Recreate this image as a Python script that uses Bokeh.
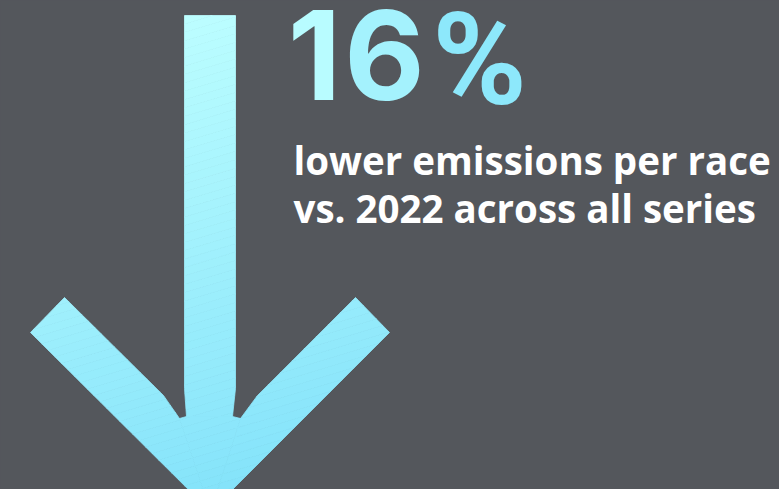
from bokeh.plotting import figure
from bokeh.models import Range1d
from bokeh.core.properties import value
from bokeh.embed import file_html
from bokeh.resources import INLINE

# ---- content ----
HEADLINE_CHARS = ["1", "6"]
HEADLINE_CENTERS = [314, 384]
HEADLINE_COLORS = ["#b8fcff", "#a4f2fd"]
PCT_CHAR = ["%"]
PCT_CENTER = [479]
PCT_COLOR = ["#8de8fb"]
SUB_LINES = ["lower emissions per race", "vs. 2022 across all series"]
SUB_TOPS = [133, 181]

# arrow outline pieces (page pixel space, y downwards)
SHAFT_X = [184, 235, 235, 232, 186, 184]
SHAFT_Y = [15, 15, 388, 416, 416, 388]
LEFT_ARM_X = [30, 64, 163, 179, 210]
LEFT_ARM_Y = [332, 297, 395, 418, 511]
RIGHT_ARM_X = [389, 355, 257, 240, 210]
RIGHT_ARM_Y = [332, 297, 395, 418, 511]
CENTER_X = [179, 186, 232, 240, 210]
CENTER_Y = [418, 416, 416, 418, 511]
ARROW_TOP = "#bcfeff"
ARROW_BOTTOM = "#83e2fa"
BG = "#54575c"

W, H = 779, 489
p = figure(width=W, height=H, output_backend="svg", toolbar_location=None,
           x_range=Range1d(0, W), y_range=Range1d(H, 0),
           min_border=0, background_fill_color=BG, border_fill_color=BG,
           outline_line_color=None)
p.axis.visible = False
p.grid.visible = False


def clip(poly, d, c, keep_ge):
    out = []
    n = len(poly)
    for i in range(n):
        a = poly[i]
        b = poly[(i + 1) % n]
        fa = a[0] * d[0] + a[1] * d[1] - c
        fb = b[0] * d[0] + b[1] * d[1] - c
        ina = fa >= 0 if keep_ge else fa <= 0
        inb = fb >= 0 if keep_ge else fb <= 0
        if ina:
            out.append(a)
        if ina != inb:
            t = fa / (fa - fb)
            out.append((a[0] + t * (b[0] - a[0]), a[1] + t * (b[1] - a[1])))
    return out


def hex2rgb(h):
    h = h.lstrip("#")
    return [int(h[i:i + 2], 16) for i in (0, 2, 4)]


def mix(c1, c2, t):
    a, b = hex2rgb(c1), hex2rgb(c2)
    return "#%02x%02x%02x" % tuple(round(a[i] + (b[i] - a[i]) * t) for i in range(3))


pieces = [list(zip(SHAFT_X, SHAFT_Y)), list(zip(LEFT_ARM_X, LEFT_ARM_Y)),
          list(zip(RIGHT_ARM_X, RIGHT_ARM_Y)), list(zip(CENTER_X, CENTER_Y))]
d = (0.3, 1.0)
allpts = [q for pc in pieces for q in pc]
proj = [x * d[0] + y * d[1] for x, y in allpts]
lo, hi = min(proj), max(proj)
N = 60
xs, ys, cols = [], [], []
for poly in pieces:
    for k in range(N):
        c0 = lo + (hi - lo) * k / N
        c1 = lo + (hi - lo) * (k + 1) / N
        part = clip(poly, d, c0, True)
        if part:
            part = clip(part, d, c1, False)
        if len(part) >= 3:
            xs.append([q[0] for q in part])
            ys.append([q[1] for q in part])
            cols.append(mix(ARROW_TOP, ARROW_BOTTOM, (k + 0.5) / N))
p.patches(xs, ys, fill_color=cols, line_color=cols, line_width=0.8)

# headline
p.text(x=HEADLINE_CENTERS, y=[9] * 2, text=HEADLINE_CHARS,
       text_color=HEADLINE_COLORS, text_font=value("Inter"),
       text_font_style="bold", text_font_size="124px",
       text_align="center", text_baseline="top")
p.text(x=PCT_CENTER, y=[-16], text=PCT_CHAR,
       text_color=PCT_COLOR, text_font=value("Roboto"),
       text_font_style="bold", text_font_size="128px",
       text_align="center", text_baseline="top")

# subtitle
p.text(x=[293, 293], y=SUB_TOPS, text=SUB_LINES,
       text_color="#ffffff",
       text_font=value("Open Sans"), text_font_style="bold",
       text_font_size="38.5px", text_align="left", text_baseline="top")

html = file_html(p, INLINE)
html = html.replace("<body>", '<body style="margin:0;overflow:hidden;background:%s">' % BG)
open("out.html", "w").write(html)
